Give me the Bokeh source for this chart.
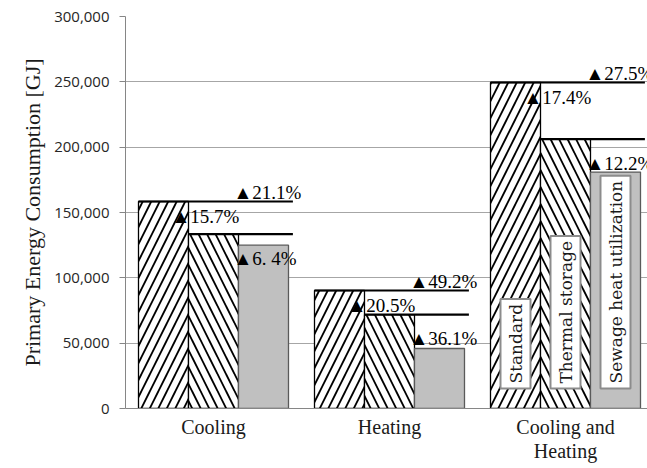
import math
from bokeh.plotting import figure
from bokeh.models import Range1d, FixedTicker, NumeralTickFormatter, ColumnDataSource
from bokeh.core.properties import value
from bokeh.embed import file_html
from bokeh.resources import INLINE

# ---- data ----
categories = ["Cooling", "Heating", "Cooling and\nHeating"]
series_names = ["Standard", "Thermal storage", "Sewage heat utilization"]
standard = [158400, 90300, 249500]
thermal = [133500, 71800, 206100]
sewage = [125000, 45900, 180900]
label_sewage_vs_standard = ["▲21.1%", "▲49.2%", "▲27.5%"]
label_thermal_vs_standard = ["▲15.7%", "▲20.5%", "▲17.4%"]
label_sewage_vs_thermal = ["▲6. 4%", "▲36.1%", "▲12.2%"]
y_ticks = [0, 50000, 100000, 150000, 200000, 250000, 300000]
y_title = "Primary Energy Consumption [GJ]"

# ---- layout ----
BW = 50 / 176.0
idx = list(range(len(categories)))
SERIF = "Liberation Serif"

p = figure(width=647, height=468,
           x_range=Range1d(-0.5, -0.5 + 522 / 176.0),
           y_range=Range1d(0, 300000),
           output_backend="svg", toolbar_location=None,
           min_border_left=125, min_border_right=0,
           min_border_top=16, min_border_bottom=60)
p.outline_line_color = None
p.background_fill_color = "white"
p.xgrid.visible = False
p.ygrid.grid_line_color = "#a6a6a6"
p.ygrid.grid_line_width = 1

# y axis
p.yaxis.ticker = FixedTicker(ticks=y_ticks)
p.yaxis.formatter = NumeralTickFormatter(format="0,0")
p.yaxis.major_label_text_font = "Open Sans"
p.yaxis.major_label_text_font_size = "15px"
p.yaxis.major_label_text_color = "#262626"
p.yaxis.major_label_standoff = 10
p.yaxis.axis_line_color = "#868686"
p.yaxis.major_tick_line_color = "#868686"
p.yaxis.major_tick_out = 6
p.yaxis.major_tick_in = 0
p.yaxis.minor_tick_line_color = None
p.yaxis.axis_label = y_title
p.yaxis.axis_label_text_font = SERIF
p.yaxis.axis_label_text_font_style = "normal"
p.yaxis.axis_label_text_font_size = "22px"
p.yaxis.axis_label_text_color = "#1a1a1a"
p.yaxis.axis_label_standoff = 6

# x axis
p.xaxis.ticker = FixedTicker(ticks=idx)
p.xaxis.major_label_overrides = {i: c for i, c in zip(idx, categories)}
p.xaxis.major_label_text_font = SERIF
p.xaxis.major_label_text_font_size = "20px"
p.xaxis.major_label_text_line_height = 1.1
p.xaxis.major_label_text_color = "#1a1a1a"
p.xaxis.major_label_standoff = 7
p.xaxis.major_tick_out = 0
p.xaxis.major_tick_in = 0
p.xaxis.axis_line_color = "#868686"
p.xaxis.major_tick_line_color = None
p.xaxis.minor_tick_line_color = None

# bars
x_std = [i - BW for i in idx]
x_thm = [i for i in idx]
x_sew = [i + BW for i in idx]

p.vbar(x=x_std, top=standard, width=BW, fill_color="white", line_color="black",
       line_width=1.3, hatch_pattern="/", hatch_color="black", hatch_scale=17, hatch_weight=1.8)
p.vbar(x=x_thm, top=thermal, width=BW, fill_color="white", line_color="black",
       line_width=1.3, hatch_pattern="\\", hatch_color="black", hatch_scale=17, hatch_weight=1.8)
p.vbar(x=x_sew, top=sewage, width=BW, fill_color="#c0c0c0", line_color="#5a5a5a",
       line_width=1.3)

# series name boxes inside last group (drawn before the labels)
last = idx[-1]
box_src = ColumnDataSource(dict(
    x=[last - BW, last, last + BW],
    y=[0, 0, 0],
    text=series_names,
))
p.text(x="x", y="y", text="text", source=box_src, angle=math.pi / 2,
       text_font=value("DejaVu Serif"), text_font_size="17px", text_color="#1a1a1a",
       text_align="left", text_baseline="middle", y_offset=-20, x_offset=0,
       background_fill_color="white", border_line_color="#8c8c8c",
       border_line_width=2, padding=5)

# reference lines
ext = 0.025
p.segment(x0=[i - 1.5 * BW for i in idx], x1=[i + 1.5 * BW + ext for i in idx],
          y0=standard, y1=standard, line_color="black", line_width=2.2)
p.segment(x0=[i - 0.5 * BW for i in idx], x1=[i + 1.5 * BW + ext for i in idx],
          y0=thermal, y1=thermal, line_color="black", line_width=2.2)

# reduction labels
common = dict(text_font=value(SERIF), text_font_size="19px", text_color="black",
              text_baseline="middle", text_align="left")
p.text(x=[i + 0.5 * BW for i in idx], y=standard, text=label_sewage_vs_standard,
       x_offset=-5, y_offset=-9, **common)
p.text(x=[i - 0.5 * BW for i in idx], y=standard, text=label_thermal_vs_standard,
       x_offset=-17, y_offset=15, **common)
p.text(x=[i + 0.5 * BW for i in idx], y=thermal, text=label_sewage_vs_thermal,
       x_offset=-5, y_offset=24, **common)

open("out.html", "w").write(file_html(p, INLINE))
